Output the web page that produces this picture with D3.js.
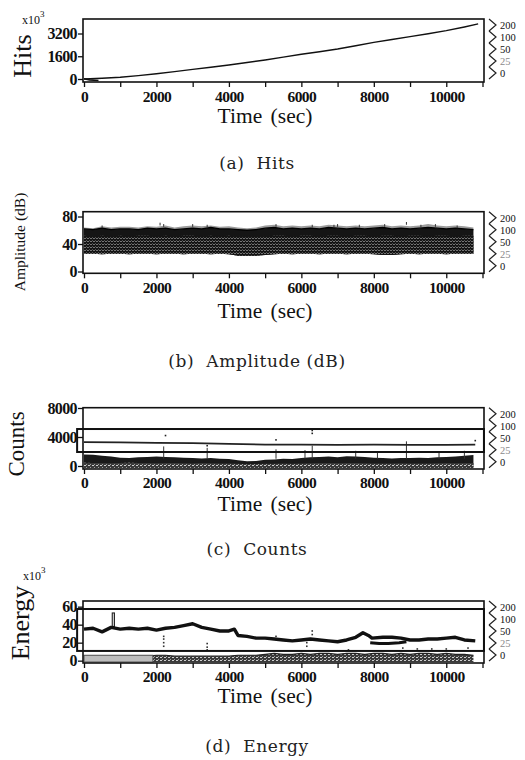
<!DOCTYPE html>
<html><head><meta charset="utf-8">
<script src="https://cdn.jsdelivr.net/npm/d3@7"></script>
<style>body{margin:0;background:#fff} svg{display:block}</style>
</head><body>
<svg id="c" width="525" height="760"></svg>
<script>
// ---------------- DATA ----------------
const xTickValues = [0,1000,2000,3000,4000,5000,6000,7000,8000,9000,10000,11000];
const xTickLabels = [0,2000,4000,6000,8000,10000];
const legendLabels = ["200","100","50","25","0"];

// (a) Hits (x10^3)
const hitsT = [0,500,1000,1500,2000,2500,3000,3500,4000,4500,5000,5500,6000,6500,7000,7500,8000,8500,9000,9500,10000,10500,10880];
const hitsV = [0,50,120,240,370,520,680,830,985,1160,1340,1540,1740,1920,2110,2340,2580,2780,2980,3180,3400,3660,3880];
const hitsStartT = [0,150,400];
const hitsStartV = [20,-60,-110];
const hitsTicks = [0,1600,3200];

// shared 250 s time grid for dense bands
const gridT = [0,250,500,750,1000,1250,1500,1750,2000,2250,2500,2750,3000,3250,3500,3750,4000,4250,4500,4750,5000,5250,5500,5750,6000,6250,6500,6750,7000,7250,7500,7750,8000,8250,8500,8750,9000,9250,9500,9750,10000,10250,10500,10750];

// (b) Amplitude (dB)
const ampHigh   = [62,61,63,61,62,62,61,63,62,63,61,62,63,62,64,62,62,61,60,61,63,64,62,63,62,63,62,64,63,62,63,62,63,64,62,63,62,63,64,63,62,63,62,61];
const ampFringe = [64,63,66,64,65,65,64,66,65,67,64,66,67,66,67,65,66,64,63,64,67,68,66,67,66,67,66,68,67,66,67,66,67,68,66,67,66,67,69,67,66,67,66,64];
const ampGridTop= [52,51,52,51,52,51,52,52,51,52,51,52,52,51,52,51,52,50,50,50,51,52,52,51,52,52,51,52,52,51,52,52,51,52,52,51,52,52,51,52,52,51,52,52];
const ampLow    = [26,26,25,26,26,25,26,26,25,26,26,25,26,26,25,26,25,23,23,23,24,25,26,25,26,26,25,26,26,25,26,26,25,24,24,25,26,25,26,26,25,26,26,26];
const ampSpikeT = [500,2100,2200,3000,3400,5300,6300,6900,7000,7600,8300,8900,9300,9700,10300];
const ampSpikeV = [67,71,69,69,68,69,68,68,69,68,69,72,68,69,67];
const ampTicks = [0,40,80];

// (c) Counts
const countsHigh = [1600,1550,1400,1300,1150,1100,1200,1250,1300,1250,1200,1150,1100,1050,1100,1000,950,800,650,700,850,900,1000,950,1100,1200,1250,1300,1200,1350,1300,1250,1150,1100,1050,1100,1100,1150,1100,1200,1250,1300,1400,1500];
const countsSpeck = [450,400,420,380,400,450,420,400,380,400,420,380,360,400,380,350,330,300,250,280,300,320,350,300,350,380,400,420,380,400,420,380,350,330,350,380,350,330,350,380,400,380,400,420];
const countsLineT = [0,1000,2000,3000,4000,5000,6000,7000,8000,9000,10000,10800];
const countsLineV = [3300,3250,3200,3150,3050,2950,2950,2900,2950,2900,2900,2950];
const countsSpikeT = [2200,3400,5300,6100,6300,7500,8100,8900,9800,10500];
const countsSpikeV = [2700,2500,2300,2200,2800,2100,2000,3400,2000,2100];
const countsDotT = [2250,5300,6300,6300,10800,3400];
const countsDotV = [4200,3600,4900,4500,3500,2800];
const countsBox = [-190, 11040, 1930, 5100];   // t0, t1, low, high
const countsTicks = [0,4000,8000];

// (d) Energy (x10^3)
const energyT = [0,250,500,750,1000,1250,1500,1750,2000,2250,2500,2750,3000,3250,3500,3750,4000,4150,4250,4500,4750,5000,5250,5500,5750,6000,6250,6500,6750,7000,7250,7500,7700,7850,7950,8250,8500,8750,9000,9250,9500,9750,10000,10250,10500,10800];
const energyV = [35,36,32,37,35,36,35,36,34,36,37,39,41,37,35,33,33,35,28,27,25,25,24,23,22,23,24,23,22,21,23,26,31,28,25,26,26,25,23,23,24,24,25,26,23,22];
const energyBranchT = [7900,8150,8400,8700,8900];
const energyBranchV = [20,19,19,20,21];
const energySpike = [780, 840, 38, 53]; // t0, t1, low, high
const energyBandTop = [5,5,5,5,5,5,5,5,6,6,5,5,5,5,5,5,5,6,6,6,7,8,7,7,8,7,8,8,7,8,8,7,8,8,7,8,7,8,8,7,8,7,7,6];
const energyGrayBox = [0, 1900, -1.5, 6];
const energyDotT = [2200,2200,2200,2200,3400,3400,3400,5300,6150,6150,6300,6300,7300,8800,9200,9600,10000,10600];
const energyDotV = [27,24,20,16,19,15,12,27,20,16,33,29,12,14,13,13,13,14];
const energyBox = [-190, 11040, 10.8, 57.4];
const energyTicks = [0,20,40,60];

// ---------------- DRAW ----------------
const svg = d3.select("#c");
const SERIF = "'Liberation Serif','Times New Roman',serif";
const x = d3.scaleLinear().domain([0,11000]).range([84,482.5]);
const boxL = 83, boxR = 484;

const defs = svg.append("defs");
const gridPat = defs.append("pattern").attr("id","ampTex").attr("patternUnits","userSpaceOnUse").attr("width",3).attr("height",3);
gridPat.append("rect").attr("width",3).attr("height",3).attr("fill","#141414");
gridPat.append("rect").attr("x",0).attr("y",1).attr("width",2).attr("height",0.8).attr("fill","#8c8c8c");
gridPat.append("rect").attr("x",2).attr("y",0).attr("width",0.7).attr("height",1).attr("fill","#6e6e6e");
const speck = defs.append("pattern").attr("id","speck").attr("patternUnits","userSpaceOnUse").attr("width",4).attr("height",3);
speck.append("rect").attr("width",4).attr("height",3).attr("fill","#3a3a3a");
speck.append("rect").attr("x",0).attr("y",0).attr("width",2).attr("height",1).attr("fill","#cfcfcf");
speck.append("rect").attr("x",2).attr("y",2).attr("width",1).attr("height",1).attr("fill","#a0a0a0");

const panels = {
  a:{top:19,   bottom:82,    dom:[-211,4220],  ticks:hitsTicks,  tickBase:102,  timeBase:123,   capBase:168.5, cap:"(a)  Hits"},
  b:{top:211.7,bottom:273.3, dom:[-2.6,87],    ticks:ampTicks,   tickBase:293,  timeBase:318,   capBase:366.5, cap:"(b)  Amplitude (dB)"},
  c:{top:407.7,bottom:469,   dom:[-414,8041],  ticks:countsTicks,tickBase:488,  timeBase:510.5, capBase:554.5, cap:"(c)  Counts"},
  d:{top:601,  bottom:663,   dom:[-2.6,66.3],  ticks:energyTicks,tickBase:681.5,timeBase:703,   capBase:751.5, cap:"(d)  Energy"}
};

function frame(p){
  const y = d3.scaleLinear().domain(p.dom).range([p.bottom,p.top]);
  p.y = y;
  p.g = svg.append("g");
  p.content = p.g.append("g");
  return p;
}
function finish(p){
  const g = p.g, y = p.y;
  g.append("rect").attr("x",boxL).attr("y",p.top).attr("width",boxR-boxL).attr("height",p.bottom-p.top)
    .attr("fill","none").attr("stroke","#111").attr("stroke-width",1.6);
  const ya = g.append("g").attr("transform",`translate(${boxL},0)`)
    .call(d3.axisLeft(y).tickValues(p.ticks).tickSize(5).tickPadding(1).tickFormat(d3.format("d")));
  ya.select(".domain").remove();
  ya.selectAll("line").attr("stroke","#111").attr("stroke-width",1.3);
  ya.selectAll("text").attr("font-family",SERIF).attr("font-size",16).attr("font-weight","bold")
    .attr("letter-spacing","-0.6").attr("fill","#111");
  const xa = g.append("g").attr("transform",`translate(0,${p.bottom})`)
    .call(d3.axisBottom(x).tickValues(xTickValues).tickSize(5).tickPadding(3)
      .tickFormat(d => xTickLabels.includes(d) ? d : ""));
  xa.select(".domain").remove();
  xa.selectAll("line").attr("stroke","#111").attr("stroke-width",1.3);
  xa.selectAll("text").filter(function(){ return this.textContent === ""; }).remove();
  xa.selectAll("text").attr("font-family",SERIF).attr("font-size",15.5).attr("font-weight","bold")
    .attr("letter-spacing","-0.6").attr("fill","#111").attr("dy",null).attr("y",p.tickBase-p.bottom);
  g.append("text").attr("x",265).attr("y",p.timeBase).attr("text-anchor","middle")
    .attr("font-family",SERIF).attr("font-size",21.5).attr("word-spacing","3").attr("fill","#111").text("Time (sec)");
  g.append("text").attr("x",257).attr("y",p.capBase).attr("text-anchor","middle")
    .attr("font-family","'DejaVu Serif',serif").attr("font-size",17).attr("letter-spacing","0.6")
    .attr("fill","#222").attr("xml:space","preserve").style("white-space","pre").text(p.cap);
  // right-hand legend: chevrons + labels
  const lg = g.append("g");
  legendLabels.forEach((s,i)=>{
    const cy = p.top + 6 + i*12;
    lg.append("path").attr("d",`M489,${cy-6}L496,${cy}L489,${cy+6}`).attr("fill","none")
      .attr("stroke","#222").attr("stroke-width",1.2);
    lg.append("text").attr("x",500).attr("y",cy+3.8).attr("font-family",SERIF).attr("font-size",10.5)
      .attr("fill", s==="25" ? "#8a8a8a" : "#111").text(s);
  });
}
function ylabel(txt,bx,cy,size){
  svg.append("text").attr("transform",`translate(${bx},${cy}) rotate(-90)`).attr("text-anchor","middle")
    .attr("font-family",SERIF).attr("font-size",size).attr("fill","#111").text(txt);
}
function x103(xx,yy){
  const t = svg.append("text").attr("x",xx).attr("y",yy).attr("font-family",SERIF).attr("font-size",12).attr("fill","#111");
  t.append("tspan").text("x10");
  t.append("tspan").attr("dy",-7).attr("font-size",9).text("3");
}

// (a) Hits
const A = frame(panels.a);
A.content.append("path").datum(hitsT.map((t,i)=>[t,hitsV[i]]))
  .attr("d",d3.line().x(d=>x(d[0])).y(d=>A.y(d[1]))).attr("fill","none").attr("stroke","#111").attr("stroke-width",1.4);
A.content.append("path").datum(hitsStartT.map((t,i)=>[t,hitsStartV[i]]))
  .attr("d",d3.line().x(d=>x(d[0])).y(d=>A.y(d[1]))).attr("fill","none").attr("stroke","#111").attr("stroke-width",1.6);
finish(A);
ylabel("Hits",31,56,26); x103(22,24);

// (b) Amplitude
const B = frame(panels.b);
const gb = gridT.map((t,i)=>({t, lo:ampLow[i], gt:ampGridTop[i], hi:ampHigh[i], fr:ampFringe[i]}));
B.content.append("path").datum(gb).attr("d",d3.area().x(d=>x(d.t)).y0(d=>B.y(d.hi)).y1(d=>B.y(d.fr))).attr("fill","#9c9c9c");
B.content.append("path").datum(gb).attr("d",d3.area().x(d=>x(d.t)).y0(d=>B.y(d.lo)).y1(d=>B.y(d.hi))).attr("fill","#151515");
B.content.append("path").datum(gb).attr("d",d3.area().x(d=>x(d.t)).y0(d=>B.y(d.lo)).y1(d=>B.y(d.gt))).attr("fill","url(#ampTex)");
B.content.append("path").datum(gb).attr("d",d3.line().x(d=>x(d.t)).y(d=>B.y(d.hi))).attr("fill","none").attr("stroke","#000").attr("stroke-width",1.3);
B.content.selectAll(".sp").data(ampSpikeT).enter().append("line")
  .attr("x1",d=>x(d)).attr("x2",d=>x(d)).attr("y1",(d,i)=>B.y(ampSpikeV[i])).attr("y2",(d,i)=>B.y(ampSpikeV[i]-4))
  .attr("stroke","#333").attr("stroke-width",1);
finish(B);
ylabel("Amplitude (dB)",25,242,15.5);

// (c) Counts
const C = frame(panels.c);
const gc = gridT.map((t,i)=>({t, hi:countsHigh[i], sp:countsSpeck[i]}));
C.content.append("path").datum(gc).attr("d",d3.area().x(d=>x(d.t)).y0(C.y(-150)).y1(d=>C.y(d.hi))).attr("fill","#1a1a1a");
C.content.append("path").datum(gc).attr("d",d3.area().x(d=>x(d.t)).y0(C.y(-300)).y1(d=>C.y(d.sp))).attr("fill","url(#speck)");
C.content.selectAll(".cs").data(countsSpikeT).enter().append("line")
  .attr("x1",d=>x(d)).attr("x2",d=>x(d)).attr("y1",C.y(1000)).attr("y2",(d,i)=>C.y(countsSpikeV[i]))
  .attr("stroke","#333").attr("stroke-width",1);
C.content.selectAll(".cd").data(countsDotT).enter().append("rect")
  .attr("x",d=>x(d)-0.8).attr("y",(d,i)=>C.y(countsDotV[i])-0.8).attr("width",1.6).attr("height",1.6).attr("fill","#222");
C.content.append("path").datum(countsLineT.map((t,i)=>[t,countsLineV[i]]))
  .attr("d",d3.line().x(d=>x(d[0])).y(d=>C.y(d[1]))).attr("fill","none").attr("stroke","#222").attr("stroke-width",1.8);
C.content.append("rect").attr("x",x(countsBox[0])).attr("y",C.y(countsBox[3]))
  .attr("width",x(countsBox[1])-x(countsBox[0])).attr("height",C.y(countsBox[2])-C.y(countsBox[3]))
  .attr("fill","none").attr("stroke","#111").attr("stroke-width",2);
finish(C);
ylabel("Counts",24,444,23);

// (d) Energy
const D = frame(panels.d);
const gd = gridT.map((t,i)=>({t, top:energyBandTop[i]}));
D.content.append("path").datum(gd).attr("d",d3.area().x(d=>x(d.t)).y0(D.y(-1.5)).y1(d=>D.y(d.top))).attr("fill","url(#speck)");
D.content.append("path").datum(gd).attr("d",d3.line().x(d=>x(d.t)).y(d=>D.y(d.top))).attr("fill","none").attr("stroke","#222").attr("stroke-width",1.2);
D.content.append("rect").attr("x",x(energyGrayBox[0])).attr("y",D.y(energyGrayBox[3]))
  .attr("width",x(energyGrayBox[1])-x(energyGrayBox[0])).attr("height",D.y(energyGrayBox[2])-D.y(energyGrayBox[3]))
  .attr("fill","#bdbdbd").attr("stroke","#555").attr("stroke-width",1);
D.content.selectAll(".ed").data(energyDotT).enter().append("rect")
  .attr("x",d=>x(d)-0.8).attr("y",(d,i)=>D.y(energyDotV[i])-0.8).attr("width",1.6).attr("height",1.6).attr("fill","#333");
D.content.append("rect").attr("x",x(energySpike[0])).attr("y",D.y(energySpike[3]))
  .attr("width",x(energySpike[1])-x(energySpike[0])).attr("height",D.y(energySpike[2])-D.y(energySpike[3]))
  .attr("fill","#ddd").attr("stroke","#222").attr("stroke-width",1.1);
D.content.append("path").datum(energyT.map((t,i)=>[t,energyV[i]]))
  .attr("d",d3.line().x(d=>x(d[0])).y(d=>D.y(d[1]))).attr("fill","none").attr("stroke","#111").attr("stroke-width",3.4).attr("stroke-linejoin","round");
D.content.append("path").datum(energyBranchT.map((t,i)=>[t,energyBranchV[i]]))
  .attr("d",d3.line().x(d=>x(d[0])).y(d=>D.y(d[1]))).attr("fill","none").attr("stroke","#111").attr("stroke-width",3).attr("stroke-linejoin","round");
D.content.append("rect").attr("x",x(energyBox[0])).attr("y",D.y(energyBox[3]))
  .attr("width",x(energyBox[1])-x(energyBox[0])).attr("height",D.y(energyBox[2])-D.y(energyBox[3]))
  .attr("fill","none").attr("stroke","#111").attr("stroke-width",2);
finish(D);
ylabel("Energy",29,623,26); x103(23,580);
</script>
</body></html>
